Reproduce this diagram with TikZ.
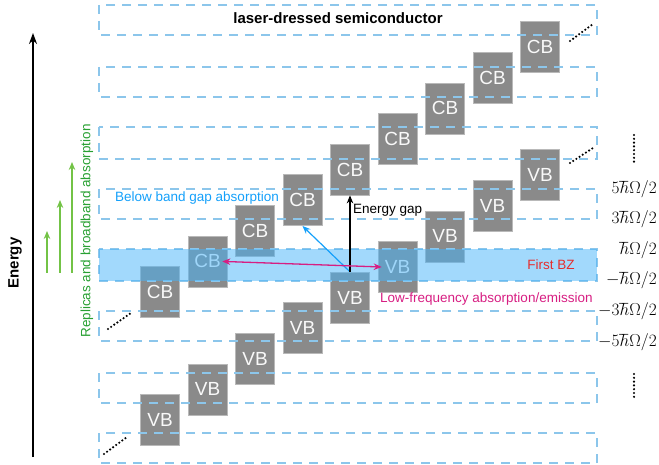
\documentclass[tikz,border=0pt]{standalone}
\usepackage{fontspec}
\setmainfont{Liberation Sans}
\usetikzlibrary{arrows.meta,positioning}

\definecolor{zoneblue}{RGB}{140,198,235}
\definecolor{bandblue}{RGB}{70,180,250}
\definecolor{boxgray}{RGB}{138,138,138}
\definecolor{replgreen}{RGB}{115,195,70}
\definecolor{repltext}{RGB}{40,160,50}
\definecolor{gapblue}{RGB}{20,160,250}
\definecolor{lowmag}{RGB}{215,30,130}
\definecolor{bzred}{RGB}{230,45,45}

\begin{document}
\begin{tikzpicture}[x=1pt, y=-1pt, >={Stealth[length=8pt,width=6.5pt]},
  bandbox/.style={draw=gray!55, fill=boxgray, line width=0.6pt, minimum width=39pt,
    minimum height=51pt, inner sep=0pt, text=white!95!gray,
    font=\fontsize{19}{19}\selectfont},
  zone/.style={draw=zoneblue, line width=2pt, dash pattern=on 9pt off 7pt},
  lbl/.style={font=\fontsize{13.5}{16}\selectfont, inner sep=0pt},
  hlab/.style={anchor=east, inner sep=0pt, font=\fontsize{16}{16}\selectfont},
  dots/.style={line width=2.4pt, dash pattern=on 0pt off 3.8pt, line cap=round}]

\useasboundingbox (0,0) rectangle (659,465);

% band replicas
\foreach \k in {0,...,8}
{
  \node[bandbox] (cb\k) at ({160+47.5*\k},{292-30.6*\k}) {CB};
  \node[bandbox] (vb\k) at ({160+47.5*\k},{420-30.6*\k}) {VB};
}

% Floquet zones
\foreach \t/\b in {5/35,67/97,127/159,189/219,249/281,311/341,373/403,433/463}
  \draw[zone] (99,\t) rectangle (597,\b);

% first BZ
\fill[bandblue, opacity=0.5] (99,249) rectangle (597,281);

\node[lbl, font=\fontsize{15}{16}\selectfont\bfseries] (title) at (338,18) {laser-dressed semiconductor};

% energy axis
\coordinate (ebot) at (33,457);
\coordinate (etop) at (33,33);
\draw[-{Stealth[length=11pt,width=8pt]}, line width=1.8pt] (ebot) -- (etop);
\node[lbl, font=\fontsize{15}{16}\selectfont\bfseries, rotate=90] (energy) at (15,263) {Energy};

% replicas
\foreach \x/\t [count=\i] in {47/231,60/200,72/162}
{
  \coordinate (gb\i) at (\x,273);
  \coordinate (gt\i) at (\x,\t);
  \draw[->, replgreen, line width=1.5pt] (gb\i) -- (gt\i);
}
\node[lbl, text=repltext, rotate=90] (repl) at (87,231) {Replicas and broadband absorption};

% transitions
\draw[->, gapblue, line width=1.2pt] (vb4.north) -- (cb3.south);
\draw[->, line width=1.2pt] (vb4.north) -- (cb4.south);
\draw[<->, lowmag, line width=1.3pt] ([xshift=-5pt]cb1.east) -- ([xshift=4pt]vb5.west);

\node[lbl, text=gapblue] (below) at (197,198) {Below band gap absorption};
\node[lbl, anchor=west] (gap) at (353,210) {Energy gap};
\node[lbl, anchor=west, text=lowmag] (low) at (380,299) {Low-frequency absorption/emission};
\node[lbl, text=bzred] (bz) at (551,265) {First BZ};

% energy levels
\node[hlab] (l5) at (657,189) {$5\hbar\Omega/2$};
\node[hlab] (l3) at (657,219) {$3\hbar\Omega/2$};
\node[hlab] (l1) at (657,250) {$\hbar\Omega/2$};
\node[hlab] (m1) at (657,280) {$-\hbar\Omega/2$};
\node[hlab] (m3) at (657,311) {$-3\hbar\Omega/2$};
\node[hlab] (m5) at (657,342) {$-5\hbar\Omega/2$};

% continuation dots
\foreach \a/\b/\c/\d [count=\i] in {570/41/593/24,570/163/593/148,108/329/131/313,104/454/127/437,634/135/634/163,634/374/634/400}
{
  \coordinate (ds\i) at (\a,\b);
  \coordinate (de\i) at (\c,\d);
  \draw[dots] (ds\i) -- (de\i);
}

\end{tikzpicture}
\end{document}
